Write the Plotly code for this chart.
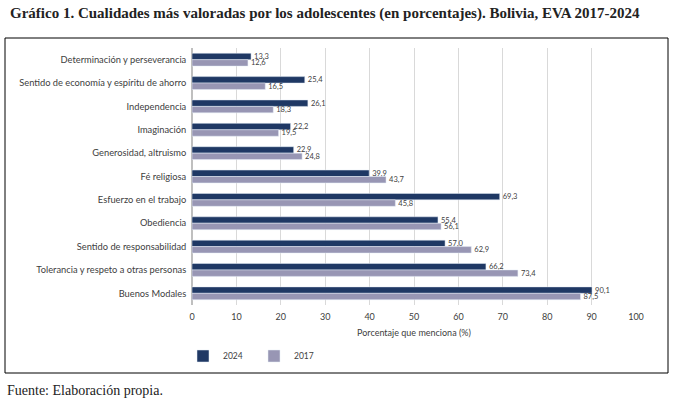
import plotly.graph_objects as go

categories = [
    "Determinación y perseverancia",
    "Sentido de economía y espíritu de ahorro",
    "Independencia",
    "Imaginación",
    "Generosidad, altruismo",
    "Fé religiosa",
    "Esfuerzo en el trabajo",
    "Obediencia",
    "Sentido de responsabilidad",
    "Tolerancia y respeto a otras personas",
    "Buenos Modales",
]
values_2024 = [13.3, 25.4, 26.1, 22.2, 22.9, 39.9, 69.3, 55.4, 57.0, 66.2, 90.1]
values_2017 = [12.6, 16.5, 18.3, 19.5, 24.8, 43.7, 45.8, 56.1, 62.9, 73.4, 87.5]
x_ticks = [0, 10, 20, 30, 40, 50, 60, 70, 80, 90, 100]

sans = "Lato, Open Sans, sans-serif"
serif = "Liberation Serif, DejaVu Serif, serif"
txt = "#404040"

fig = go.Figure()
fig.add_trace(go.Bar(
    y=categories, x=values_2024, name="2024", orientation="h",
    marker=dict(color="#1F3864"),
    texttemplate="%{x:.1f}", textposition="outside", cliponaxis=False,
    constraintext="none",
    textfont=dict(family=sans, size=7.5, color=txt),
))
fig.add_trace(go.Bar(
    y=categories, x=values_2017, name="2017", orientation="h",
    marker=dict(color="#9896B4"),
    texttemplate="%{x:.1f}", textposition="outside", cliponaxis=False,
    constraintext="none",
    textfont=dict(family=sans, size=7.5, color=txt),
))

L, R, T, B = 192, 39, 48, 94
W, H = 675, 399
pw, ph = W - L - R, H - T - B

def px(xp):
    return (xp - L) / pw

def py(yp):
    return (H - B - yp) / ph

fig.update_layout(
    width=W, height=H,
    margin=dict(l=L, r=R, t=T, b=B, autoexpand=False),
    paper_bgcolor="white", plot_bgcolor="white",
    separators=", ",
    barmode="group", bargap=0.45, bargroupgap=0,
    showlegend=True,
    legend=dict(orientation="h", x=px(254), y=py(356), xref="paper", yref="paper",
                xanchor="center", yanchor="middle",
                font=dict(family=sans, size=8.5, color=txt),
                itemwidth=30, entrywidth=26, traceorder="normal"),
    xaxis=dict(range=[0, 100], tickvals=x_ticks, showgrid=True,
               gridcolor="#D9D9D9", gridwidth=1, zeroline=True,
               zerolinecolor="#BFBFBF", ticks="", ticklabelstandoff=5,
               tickfont=dict(family=sans, size=9, color=txt),
               title=dict(text="Porcentaje que menciona (%)", standoff=8,
                          font=dict(family=sans, size=9, color=txt))),
    yaxis=dict(autorange="reversed", ticks="", showgrid=False,
               ticksuffix="  ",
               tickfont=dict(family=sans, size=9.3, color=txt)),
    shapes=[dict(type="rect", xref="paper", yref="paper",
                 x0=px(5), x1=px(668), y0=py(373), y1=py(38),
                 line=dict(color="black", width=1), fillcolor="rgba(0,0,0,0)")],
    annotations=[
        dict(text="<b>Gráfico 1. Cualidades más valoradas por los adolescentes (en porcentajes). Bolivia, EVA 2017-2024</b>",
             xref="paper", yref="paper", x=px(8), y=py(13), xanchor="left", yanchor="middle",
             showarrow=False, font=dict(family=serif, size=15, color="#222222")),
        dict(text="Fuente: Elaboración propia.",
             xref="paper", yref="paper", x=px(5), y=py(390), xanchor="left", yanchor="middle",
             showarrow=False, font=dict(family=serif, size=14, color="#222222")),
    ],
)

fig.write_html("out.html", config={"displayModeBar": False},
               post_script="document.body.style.margin='0px';document.body.style.padding='0px';")
